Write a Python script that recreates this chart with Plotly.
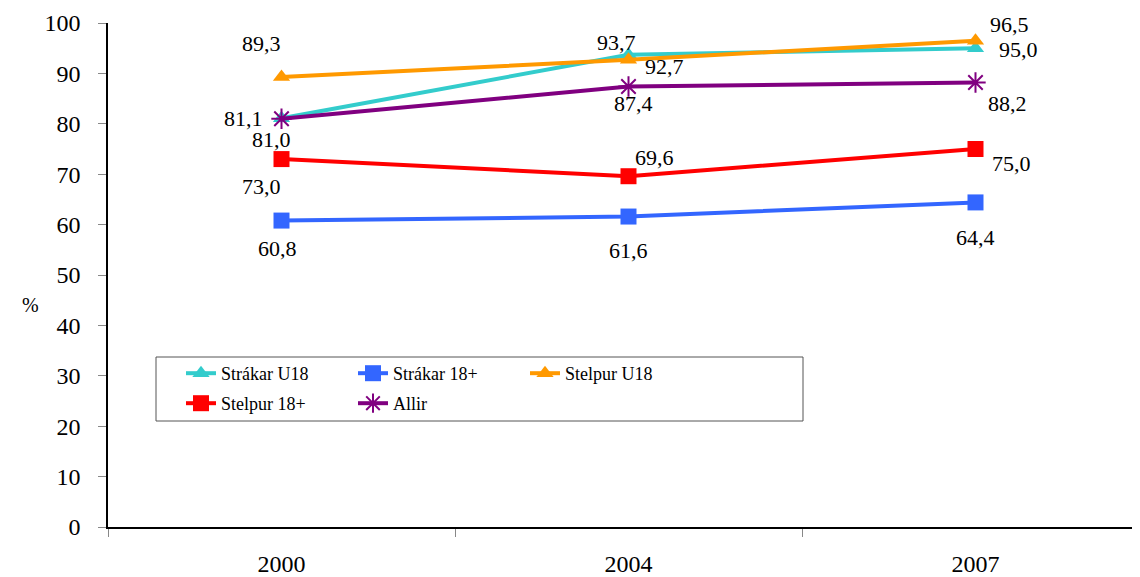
import plotly.graph_objects as go

years = ["2000", "2004", "2007"]
series_names = ["Strákar U18", "Strákar 18+", "Stelpur U18", "Stelpur 18+", "Allir"]
strakar_u18 = [81.1, 93.7, 95.0]
strakar_18 = [60.8, 61.6, 64.4]
stelpur_u18 = [89.3, 92.7, 96.5]
stelpur_18 = [73.0, 69.6, 75.0]
allir = [81.0, 87.4, 88.2]
y_ticks = list(range(0, 101, 10))

values = [strakar_u18, strakar_18, stelpur_u18, stelpur_18, allir]
colors = ["#33CCCC", "#3366FF", "#FF9900", "#FF0000", "#800080"]
symbols = ["triangle-up", "square", "triangle-up", "square", "asterisk-open"]
msizes = [15, 16, 15, 16, 17]
legend_ids = ["legend", "legend", "legend", "legend2", "legend2"]

# label offsets (px) per series per point: (dx, dy, xanchor)
offsets = [
    [(-17, 0, "right"), (-12, -12, "center"), (43, 1, "center")],
    [(-4, 28, "center"), (0, 34, "center"), (0, 35, "center")],
    [(-20, -33, "center"), (36, 7, "center"), (34, -16, "center")],
    [(-20, 27, "center"), (26, -19, "center"), (36, 14, "center")],
    [(-10, 21, "center"), (5, 17, "center"), (32, 21, "center")],
]

FONT = "Times New Roman, DejaVu Serif, serif"

# page has an 8px body margin; layout below is in figure coordinates
L, T, PW, PH = 100, 15, 1040, 504

fig = go.Figure()
annotations = []
for i, name in enumerate(series_names):
    fig.add_trace(go.Scatter(
        x=years, y=values[i], name=name, mode="lines+markers",
        line=dict(color=colors[i], width=4),
        marker=dict(symbol=symbols[i], size=msizes[i], color=colors[i],
                    line=dict(color=colors[i], width=2 if symbols[i] == "asterisk-open" else 0)),
        legend=legend_ids[i],
    ))
    for j, yr in enumerate(years):
        dx, dy, xa = offsets[i][j]
        annotations.append(dict(
            x=j, y=values[i][j], xref="x", yref="y",
            text=f"{values[i][j]:.1f}".replace(".", ","),
            showarrow=False, xshift=dx, yshift=-dy, xanchor=xa, yanchor="middle",
            font=dict(family=FONT, size=22, color="black"),
        ))

annotations.append(dict(x=(12 - L) / PW, y=(T + PH - 297) / PH, xref="paper", yref="paper",
                        text="%", showarrow=False,
                        font=dict(family=FONT, size=20, color="black")))

fig.update_layout(
    width=1140, height=577,
    margin=dict(l=L, r=1140 - L - PW, t=T, b=577 - T - PH, autoexpand=False),
    paper_bgcolor="white", plot_bgcolor="white",
    font=dict(family=FONT, size=20, color="black"),
    annotations=annotations,
    legend=dict(xref="container", yref="container", x=173 / 1140, y=1 - 347 / 577,
                xanchor="left", yanchor="top", orientation="h",
                entrywidth=127, font=dict(family=FONT, size=18, color="black"),
                bgcolor="rgba(0,0,0,0)", borderwidth=0, itemwidth=30, tracegroupgap=0),
    legend2=dict(xref="container", yref="container", x=173 / 1140, y=1 - 377 / 577,
                 xanchor="left", yanchor="top", orientation="h",
                 entrywidth=127, font=dict(family=FONT, size=18, color="black"),
                 bgcolor="rgba(0,0,0,0)", borderwidth=0, itemwidth=30),
    shapes=[dict(type="rect", xref="paper", yref="paper",
                 x0=(148 - L) / PW, x1=(795 - L) / PW,
                 y0=(T + PH - 413) / PH, y1=(T + PH - 349) / PH,
                 line=dict(color="#555555", width=1), fillcolor="rgba(0,0,0,0)")],
)

fig.update_xaxes(
    type="category", range=[-0.5, -0.5 + PW / 347], showgrid=False,
    showline=True, linecolor="black", linewidth=1.5,
    ticks="outside", tickson="boundaries", ticklen=8, tickcolor="#888888",
    ticklabelstandoff=14, tickfont=dict(family=FONT, size=24),
)
fig.update_yaxes(
    range=[0, 100], tickvals=y_ticks, showgrid=False, zeroline=False,
    showline=True, linecolor="black", linewidth=1.5,
    ticks="outside", ticklen=8, tickcolor="#888888",
    ticklabelstandoff=13, tickfont=dict(family=FONT, size=24),
)

fig.write_html("out.html")
